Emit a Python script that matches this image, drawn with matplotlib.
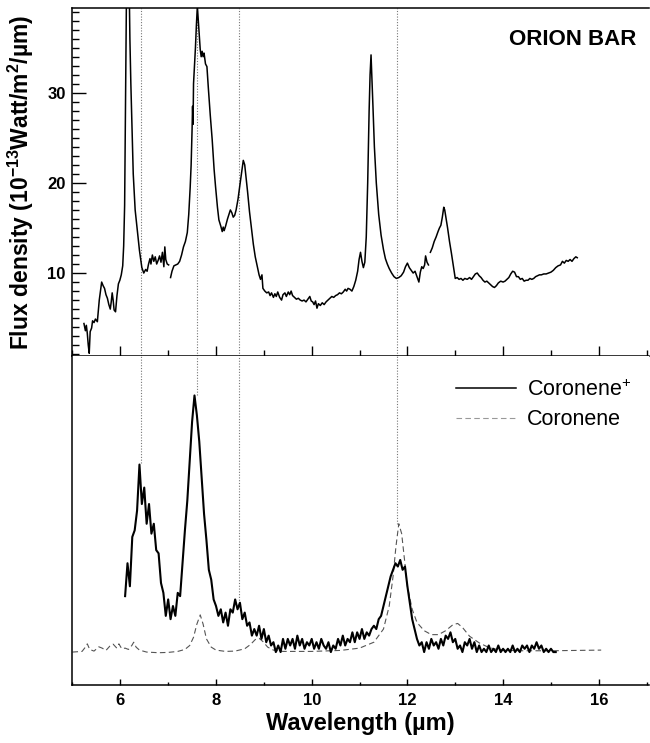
import numpy as np
import matplotlib
matplotlib.use("Agg")
from matplotlib import pyplot as plt
from matplotlib.ticker import MultipleLocator

plt.rcParams['font.family'] = ['Liberation Sans', 'DejaVu Sans']
plt.rcParams['mathtext.fontset'] = 'custom'
plt.rcParams['mathtext.rm'] = 'Liberation Sans'
plt.rcParams['mathtext.bf'] = 'Liberation Sans:bold'
plt.rcParams['mathtext.default'] = 'bf'

# ORION BAR spectrum (nan = gap in the data)
orion_wl = [5.24, 5.27, 5.29, 5.31, 5.33, 5.35, 5.37, 5.40, 5.42, 5.45, 5.48, 5.52, 5.56, 5.59, 5.61,
            5.64, 5.67, 5.70, 5.73, 5.76, 5.79, 5.81, 5.83, 5.85, 5.87, 5.90, 5.93, 5.96, 5.99, 6.02,
            6.05, 6.07, 6.09, 6.11, 6.13, 6.155, 6.18, 6.20, 6.22, 6.24, 6.27, 6.31, 6.35, 6.40, 6.45,
            6.49, 6.53, 6.56, 6.59, 6.62, 6.64, 6.67, 6.70, 6.73, 6.76, 6.79, 6.82, 6.85, 6.88, 6.91,
            6.93, 6.95, 6.98, 7.01, np.nan,
            7.05, 7.08, 7.12, 7.16, 7.20, 7.24, 7.28, 7.32, 7.36, 7.40, 7.43, 7.46, 7.48, 7.50, 7.51,
            7.52, 7.53, 7.55, 7.57, 7.59, 7.61, 7.63, 7.65, 7.67, 7.69, 7.71, 7.73, 7.75, 7.78, 7.81,
            7.84, 7.88, 7.92, 7.96, 7.99, 8.03, 8.06, 8.10, 8.13, 8.15, 8.17, 8.20, 8.24, 8.27, 8.30,
            8.33, 8.36, 8.39, 8.42, 8.46, 8.50, 8.54, 8.57, 8.60, 8.63, 8.66, 8.70, 8.74, 8.78, 8.82,
            8.86, 8.90, 8.93, 8.96, 8.98, 9.02, 9.06, 9.10, 9.13, 9.16, 9.20, 9.23, 9.26, 9.29, 9.33,
            9.37, 9.40, 9.44, 9.47, 9.51, 9.54, 9.57, 9.60, 9.64, 9.68, 9.72, 9.76, 9.80, 9.84, 9.88,
            9.92, 9.96, 9.99, 10.02, 10.05, 10.08, 10.11, 10.14, 10.18, 10.22, 10.26, 10.30, 10.34,
            10.38, 10.42, 10.46, 10.50, 10.54, 10.58, 10.62, 10.66, 10.70, 10.73, 10.76, 10.80, 10.84,
            10.88, 10.92, 10.96, 10.99, 11.02, 11.05, 11.08, 11.11, 11.14, 11.17, 11.20, 11.22, 11.24,
            11.26, 11.28, 11.31, 11.35, 11.40, 11.45, 11.50, 11.54, 11.58, 11.62, 11.67, 11.72, 11.77,
            11.82, 11.87, 11.92, 11.96, 12.00, 12.04, 12.08, 12.12, 12.16, 12.20, 12.24, 12.27, 12.30,
            12.33, 12.36, 12.38, 12.41, 12.44, np.nan,
            12.48, 12.52, 12.56, 12.60, 12.64, 12.67, 12.70, 12.73, 12.76, 12.78, 12.81, 12.84, 12.88,
            12.92, 12.96, 13.00, 13.04, 13.08, 13.12, 13.16, 13.20, 13.25, 13.30, 13.34, 13.38, 13.42,
            13.46, 13.50, 13.54, 13.58, 13.62, 13.66, 13.70, 13.74, 13.78, 13.82, 13.86, 13.90, 13.95,
            14.00, 14.04, 14.08, 14.12, 14.16, 14.20, 14.24, 14.28, 14.32, 14.36, 14.40, 14.44, 14.48,
            14.52, 14.56, 14.60, 14.64, 14.68, 14.72, 14.76, 14.80, 14.85, 14.90, 14.95, 15.00, 15.05,
            15.10, 15.15, 15.20, 15.24, 15.28, 15.32, 15.36, 15.40, 15.44, 15.48, 15.52, 15.55]
orion_flux = [4.4, 3.6, 4.2, 3.3, 2.0, 1.1, 3.5, 3.9, 4.7, 4.5, 4.9, 4.6, 7.0, 8.2, 9.0,
              8.6, 8.3, 7.6, 7.2, 6.5, 6.0, 6.8, 7.8, 7.0, 5.9, 5.7, 7.5, 8.8, 9.2, 9.8,
              10.8, 13.0, 17.5, 29, 42, 58, 44, 36, 31, 27, 21, 17, 15, 12.5, 10.6,
              10.0, 10.4, 10.2, 11.0, 11.6, 11.0, 12.0, 11.3, 11.8, 11.0, 11.4, 11.9, 11.2, 12.3, 10.7,
              12.9, 11.5, 11.0, 10.9, np.nan,
              9.5, 10.2, 10.8, 10.9, 11.0, 11.3, 12.0, 12.9, 13.5, 14.5, 16.5, 19.5, 22, 26, 28.5,
              26.5, 31, 33, 35, 37.5, 39.6, 38, 36.3, 34.8, 34.0, 34.6, 34.0, 34.4, 33.2, 32.9,
              30.5, 27.5, 24.8, 21.5, 19.6, 17.3, 15.9, 15.2, 14.6, 15.1, 14.7, 15.2, 16.0, 16.5, 17.0,
              16.7, 16.2, 16.4, 17.0, 18.2, 19.8, 21.3, 22.5, 22.0, 20.5, 19.0, 16.8, 15.0, 13.2, 11.8,
              10.8, 9.8, 9.3, 9.8, 8.3, 8.0, 7.8, 7.9, 7.5, 7.8, 7.3, 7.7, 7.4, 7.9, 7.3,
              7.0, 7.6, 7.8, 7.4, 7.9, 7.6, 8.0, 7.5, 7.3, 7.1, 7.2, 7.0, 6.9, 7.0, 6.8,
              7.1, 7.4, 6.9, 6.8, 6.5, 6.9, 6.1, 6.6, 6.4, 6.7, 6.5, 6.8, 7.0,
              7.2, 7.4, 7.3, 7.5, 7.6, 7.8, 7.7, 7.9, 8.2, 8.0, 8.3, 8.2, 8.0,
              8.5, 9.2, 10.2, 11.5, 12.3, 11.3, 10.6, 11.2, 14.0, 20, 28, 32, 34.2,
              31.5, 28.5, 24, 20, 16.5, 14.2, 12.6, 11.6, 11.0, 10.5, 10.0, 9.6, 9.4,
              9.5, 9.7, 10.1, 10.7, 11.1, 10.6, 10.3, 10.0, 10.2, 9.6, 9.0, 10.1, 10.7,
              10.5, 10.9, 11.9, 11.2, 10.9, np.nan,
              12.3, 12.8, 13.5, 14.0, 14.6, 15.0, 15.3, 16.2, 17.3, 17.0, 16.0, 15.0, 13.5,
              12.2, 10.8, 9.4, 9.5, 9.3, 9.4, 9.2, 9.4, 9.3, 9.5, 9.3, 9.6, 9.9,
              10.0, 9.7, 9.5, 9.2, 9.0, 9.1, 8.9, 8.7, 8.5, 8.4, 8.6, 8.9, 9.1,
              9.0, 9.1, 9.3, 9.5, 9.9, 10.2, 10.1, 9.6, 9.6, 9.3, 9.4, 9.1, 9.2,
              9.2, 9.4, 9.3, 9.4, 9.6, 9.7, 9.8, 9.8, 9.9, 9.9, 10.0, 10.1, 10.3,
              10.6, 10.8, 10.9, 11.3, 11.1, 11.4, 11.3, 11.5, 11.3, 11.6, 11.8, 11.7]

# Coronene+ laboratory spectrum, sampled every 0.05 um from 6.10 um (arbitrary units)
cation_start = 6.10
cation_step = 0.05
cation_flux = [27, 37, 30, 45, 47, 53, 67, 55, 60, 49, 55, 46, 49, 41, 40, 31, 28, 21, 26, 20,
               24, 21, 28, 27, 37, 47, 56, 68, 80, 88, 82, 74, 63, 52, 44, 35, 32, 26, 24, 21,
               23, 19, 22, 18, 23, 22, 26, 23, 25, 20, 22, 18, 19, 15, 17, 15, 18, 14, 17, 13,
               15, 12, 13, 10, 12, 10, 14, 11, 14, 12, 14, 11, 15, 12, 14, 11, 13, 12, 14, 11,
               13, 11, 14, 12, 11, 13, 10, 12, 11, 14, 12, 15, 12, 14, 13, 16, 13, 16, 14, 17,
               14, 16, 15, 17, 18, 17, 20, 21, 24, 27, 30, 33, 35, 37, 36, 38, 35, 36, 30, 25,
               20, 17, 14, 12, 13, 10, 13, 11, 14, 12, 13, 11, 14, 12, 15, 14, 16, 13, 14, 11,
               12, 10, 13, 12, 14, 11, 13, 10, 12, 10, 11, 10, 12, 10, 11, 10, 12, 10, 11, 10,
               11, 10, 12, 10, 11, 10, 12, 11, 12, 10, 12, 11, 13, 11, 12, 10, 11, 10, 11, 10, 10]

# neutral Coronene spectrum (arbitrary units)
neutral_wl = [5.00, 5.20, 5.27, 5.31, 5.36, 5.45, 5.55, 5.62, 5.70, 5.78, 5.85, 5.92, 5.97, 6.03,
              6.10, 6.17, 6.24, 6.28, 6.33, 6.40, 6.55, 6.80, 7.00, 7.20, 7.35, 7.45, 7.53, 7.60,
              7.67, 7.73, 7.80, 7.90, 8.00, 8.20, 8.40, 8.60, 8.72, 8.82, 8.90, 8.98, 9.08, 9.20,
              9.40, 10.0, 10.6, 11.0, 11.3, 11.5, 11.62, 11.70, 11.76, 11.82, 11.88, 11.94, 12.00,
              12.10, 12.20, 12.35, 12.50, 12.65, 12.80, 12.95, 13.05, 13.15, 13.30, 13.50, 13.70,
              13.90, 14.3, 15.0, 16.05]
neutral_flux = [10.0, 10.2, 11.5, 12.5, 10.8, 10.3, 11.6, 11.2, 10.5, 11.8, 12.4, 11.3, 12.5, 11.0,
                11.2, 10.8, 12.0, 13.0, 11.5, 10.6, 10.0, 9.8, 9.9, 10.2, 10.8, 12.0, 14.5, 18.5,
                21.3, 18.5, 14.0, 11.5, 10.6, 10.2, 10.3, 11.0, 12.3, 13.8, 14.2, 13.2, 11.5, 10.6,
                10.2, 10.2, 10.5, 11.2, 13.0, 17.0, 24, 33, 42, 49, 46, 38, 30,
                23, 19, 16.5, 15.3, 15.3, 16.5, 18.3, 18.7, 17.5, 14.8, 12.8, 11.4,
                10.7, 10.4, 10.4, 10.6]

# band positions marked by dotted lines, and where they stop in the lower panel
band_wl = [6.44, 7.61, 8.47, 11.78]
band_stop = [67.5, 88, 25, 49]

cation_wl = cation_start + cation_step * np.arange(len(cation_flux))

fig = plt.figure(figsize=(6.5, 7.43), dpi=100)
ax1 = fig.add_axes([0.1115, 0.5209, 0.8870, 0.4683])
ax2 = fig.add_axes([0.1115, 0.0781, 0.8870, 0.4428], sharex=ax1)

for b in band_wl:
    ax1.axvline(b, color='#777777', ls=(0, (1, 1.5)), lw=0.8, zorder=1)
ax2.vlines(band_wl, band_stop, 100, color='#777777', linestyles=[(0, (1, 1.5))], lw=0.8, zorder=1)

ax1.plot(orion_wl, orion_flux, color='black', lw=1.1, zorder=3)
ax1.text(0.978, 0.91, 'ORION BAR', transform=ax1.transAxes, ha='right', va='center',
         fontsize=16, fontweight='bold')

ax2.plot(neutral_wl, neutral_flux, color='#555555', lw=0.8, dashes=(5, 3), label='Coronene', zorder=2)
ax2.plot(cation_wl, cation_flux, color='black', lw=1.5, label='Coronene$^{+}$', zorder=3)

h, l = ax2.get_legend_handles_labels()
leg = ax2.legend(h[::-1], ['Coronene$^{\\mathrm{+}}$', 'Coronene'], loc='upper left',
                 bbox_to_anchor=(0.665, 0.93), frameon=False, fontsize=15.5, handlelength=2.8,
                 handletextpad=0.5, labelspacing=0.4, borderpad=0, borderaxespad=0)
leg.legend_handles[0].set_linewidth(1.1)
leg.legend_handles[1].set_color('#999999')

ax1.set_xlim(5, 17.05)
ax1.set_ylim(0.8, 39.4)
ax2.set_ylim(0, 100)

ax1.xaxis.set_major_locator(MultipleLocator(2))
ax1.xaxis.set_minor_locator(MultipleLocator(0.5))
ax1.yaxis.set_major_locator(MultipleLocator(10))
ax1.yaxis.set_minor_locator(MultipleLocator(1))
ax1.tick_params(axis='x', which='major', direction='in', length=7, width=1, labelbottom=False)
ax1.tick_params(axis='x', which='minor', direction='in', length=4, width=1)
ax1.tick_params(axis='y', which='major', direction='in', length=10, width=1, labelsize=12, pad=5)
ax1.tick_params(axis='y', which='minor', direction='in', length=5, width=1)
for lab in ax1.get_yticklabels():
    lab.set_fontweight('bold')

ax2.xaxis.set_minor_locator(MultipleLocator(1))
ax2.tick_params(axis='x', which='major', direction='in', length=4, width=1, labelsize=12, pad=6)
ax2.tick_params(axis='x', which='minor', direction='in', length=2.5, width=1)
ax2.tick_params(axis='y', left=False, labelleft=False)
for lab in ax2.get_xticklabels():
    lab.set_fontweight('bold')

for ax in (ax1, ax2):
    ax.spines['right'].set_visible(False)
    for s in ('left', 'bottom', 'top'):
        ax.spines[s].set_linewidth(1.1)
ax2.spines['top'].set_visible(False)

ax1.set_ylabel('Flux density (10$^{-13}$Watt/m$^{2}$/\u00b5m)', fontsize=16.5, fontweight='bold', labelpad=8)
ax2.set_xlabel('Wavelength (\u00b5m)', fontsize=17, fontweight='bold', labelpad=3)

fig.savefig('out.png', dpi=100)
